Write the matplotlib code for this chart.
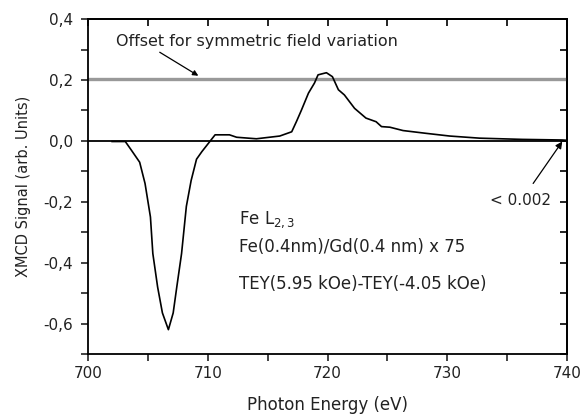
import matplotlib.pyplot as plt
from matplotlib.ticker import MultipleLocator, FuncFormatter, NullFormatter

plt.rcParams['font.family'] = ['DejaVu Sans']

# XMCD spectrum
energy = [702.0, 703.1, 703.6, 704.3, 704.75, 705.2, 705.4, 705.8, 706.2, 706.7,
          707.1, 707.4, 707.8, 708.2, 708.6, 709.05, 709.5, 710.2, 710.6, 711.8,
          712.4, 714.05, 716.0, 717.0, 717.4, 717.8, 718.4, 718.9, 719.2, 719.9,
          720.4, 720.9, 721.4, 722.25, 723.2, 724.05, 724.5, 725.2, 726.3, 728.2,
          730.2, 732.7, 736.25, 739.6, 740.0]
signal = [-0.002, -0.002, -0.03, -0.07, -0.14, -0.25, -0.37, -0.48, -0.565, -0.62,
          -0.565, -0.48, -0.37, -0.215, -0.13, -0.06, -0.035, 0.0, 0.02, 0.02,
          0.012, 0.007, 0.016, 0.03, 0.064, 0.10, 0.157, 0.19, 0.217, 0.224,
          0.211, 0.168, 0.151, 0.107, 0.075, 0.063, 0.047, 0.045, 0.034, 0.025,
          0.016, 0.009, 0.005, 0.003, 0.002]
offset_level = 0.205
txt = '#222222'

fig = plt.figure(figsize=(5.84, 4.16), dpi=100)
ax = fig.add_axes([0.151, 0.149, 0.82, 0.805])

ax.axhline(offset_level, color='#999999', lw=2.4)
ax.axhline(0.0, color='black', lw=1.3)
ax.plot(energy, signal, color='black', lw=1.2)

ax.set_xlim(700, 740)
ax.set_ylim(-0.7, 0.4)
ax.xaxis.set_major_locator(MultipleLocator(10))
ax.xaxis.set_minor_locator(MultipleLocator(5))
ax.yaxis.set_major_locator(MultipleLocator(0.2))
ax.yaxis.set_minor_locator(MultipleLocator(0.1))
ax.yaxis.set_major_formatter(FuncFormatter(lambda v, p: "{0:.1f}".format(v).replace('.', ',').replace('-0,0', '0,0')))

# left / bottom ticks point out, top / right ticks point in
ax.tick_params(which='both', direction='out', length=5, width=1.2, labelsize=11, colors=txt)
ax.tick_params(axis='y', pad=6)
top = ax.secondary_xaxis('top')
top.xaxis.set_major_locator(MultipleLocator(10))
top.xaxis.set_minor_locator(MultipleLocator(5))
top.xaxis.set_major_formatter(NullFormatter())
top.tick_params(which='both', direction='in', length=5, width=1.2)
right = ax.secondary_yaxis('right')
right.yaxis.set_major_locator(MultipleLocator(0.2))
right.yaxis.set_minor_locator(MultipleLocator(0.1))
right.yaxis.set_major_formatter(NullFormatter())
right.tick_params(which='both', direction='in', length=5, width=1.2)
for a in (ax, top, right):
    for sp in a.spines.values():
        sp.set_linewidth(1.3)

ax.set_xlabel("Photon Energy (eV)", fontsize=12, labelpad=11, color=txt)
ax.set_ylabel("XMCD Signal (arb. Units)", fontsize=10.5, labelpad=9, color=txt)

ax.annotate("Offset for symmetric field variation", xy=(709.2, 0.214), xytext=(702.3, 0.325),
            fontsize=11.5, color=txt, va='center',
            arrowprops=dict(arrowstyle='-|>', color='black', lw=0.9, mutation_scale=8,
                            shrinkA=0, shrinkB=0, relpos=(0.14, 0.0)))
ax.annotate("< 0.002", xy=(739.6, -0.002), xytext=(736.1, -0.196),
            fontsize=11, color=txt, ha='center', va='center',
            arrowprops=dict(arrowstyle='-|>', color='black', lw=0.9, mutation_scale=10,
                            shrinkA=6, shrinkB=0, relpos=(0.6, 1.0)))

ax.text(712.6, -0.26, "Fe L$_{2,3}$", fontsize=12, color=txt, va='center')
ax.text(712.6, -0.348, "Fe(0.4nm)/Gd(0.4 nm) x 75", fontsize=12, color=txt, va='center')
ax.text(712.6, -0.47, "TEY(5.95 kOe)-TEY(-4.05 kOe)", fontsize=12, color=txt, va='center')

fig.savefig("out.png", dpi=100)
